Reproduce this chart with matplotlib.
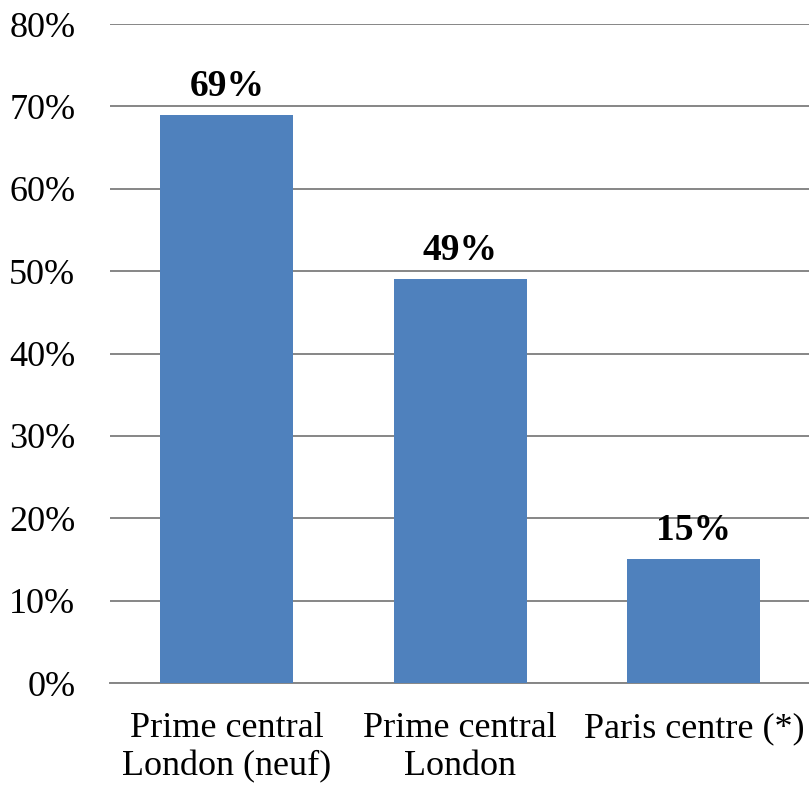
import matplotlib
matplotlib.use("Agg")
import matplotlib.pyplot as plt
from matplotlib.ticker import FuncFormatter, MultipleLocator

categories = ["Prime central\nLondon (neuf)", "Prime central\nLondon", "Paris centre (*)"]
values = [69, 49, 15]
value_labels = ["69%", "49%", "15%"]

plt.rcParams["font.family"] = ["Liberation Serif", "DejaVu Serif"]

fig = plt.figure(figsize=(8.09, 7.86), dpi=100)
ax = fig.add_axes([0.136, 0.131, 0.866, 0.8384])

x = range(len(categories))
bars = ax.bar(x, values, width=0.57, color="#4F81BD", zorder=3)

ax.set_xlim(-0.5, len(categories) - 0.5)
ax.set_ylim(0, 80)
ax.yaxis.set_major_locator(MultipleLocator(10))
ax.yaxis.set_major_formatter(FuncFormatter(lambda v, _: f"{v:.0f}%"))
ax.grid(axis="y", color="#868686", linewidth=1.4, zorder=0)
ax.set_axisbelow(True)

for side in ["left", "right", "top"]:
    ax.spines[side].set_visible(False)
ax.spines["bottom"].set_color("#868686")
ax.spines["bottom"].set_linewidth(1.4)

ax.set_xticks(list(x))
ax.set_xticklabels(categories, fontsize=26, linespacing=1.2)
ax.tick_params(axis="x", length=0, pad=21)
ax.tick_params(axis="y", length=0, pad=25, labelsize=26)

for rect, val, lab in zip(bars, values, value_labels):
    ax.annotate(lab, (rect.get_x() + rect.get_width() / 2, val),
                xytext=(0, 13.7), textcoords="offset points",
                ha="center", va="baseline", fontsize=27, fontweight="bold")

fig.savefig("out.png", dpi=100)
